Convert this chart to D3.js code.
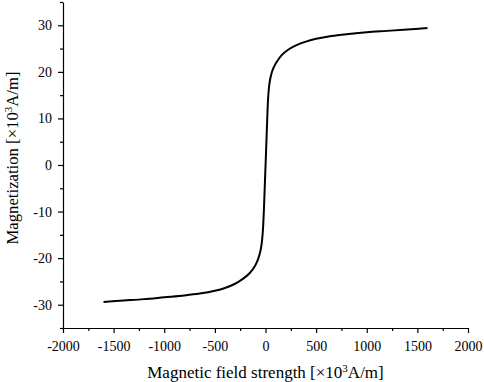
<!DOCTYPE html>
<html>
<head>
<meta charset="utf-8">
<script src="https://cdn.jsdelivr.net/npm/d3@7"></script>
<style>
  body { margin: 0; background: #fff; }
  text { font-family: "Liberation Serif", "Times New Roman", serif; fill: #000; }
  .axis path, .axis line { stroke: #000; stroke-width: 1.2; }
</style>
</head>
<body>
<div id="chart"></div>
<script>
// field strength H (x10^3 A/m) and magnetization M (x10^3 A/m)
const fieldH = [-1600, -1400, -1200, -1000, -800, -650, -500, -400, -300, -220, -160, -110, -80, -60, -45, -35, -25, -15, -5, 0,
                5, 15, 25, 35, 45, 60, 80, 110, 160, 220, 300, 400, 500, 650, 800, 1000, 1200, 1400, 1600];
const magM   = [-29.4, -29.1, -28.8, -28.4, -28.0, -27.6, -27.0, -26.4, -25.5, -24.4, -23.3, -21.9, -20.6, -19.3, -17.9, -16.4, -13.8, -9.2, -3.2, -0.4,
                2.6, 8.6, 14.0, 16.8, 18.3, 19.7, 20.9, 22.1, 23.6, 24.7, 25.7, 26.5, 27.1, 27.7, 28.1, 28.5, 28.8, 29.1, 29.4];

const xTicks = [-2000, -1500, -1000, -500, 0, 500, 1000, 1500, 2000];
const yTicks = [-30, -20, -10, 0, 10, 20, 30];

const width = 484, height = 382;
const margin = {top: 2, right: 16, bottom: 54, left: 63};

const svg = d3.select("#chart").append("svg")
    .attr("width", width)
    .attr("height", height);

const x = d3.scaleLinear().domain([-2000, 2000]).range([margin.left, width - margin.right]);
const y = d3.scaleLinear().domain([-35, 35]).range([height - margin.bottom, margin.top]);

const plain = d => String(d); // hyphen minus, no thousands comma

// minor ticks first
svg.append("g")
   .attr("class", "axis")
   .attr("transform", `translate(0,${height - margin.bottom})`)
   .call(d3.axisBottom(x).tickValues(d3.range(-1750, 2000, 500)).tickSize(3).tickFormat(""))
   .select(".domain").remove();

svg.append("g")
   .attr("class", "axis")
   .attr("transform", `translate(${margin.left},0)`)
   .call(d3.axisLeft(y).tickValues(d3.range(-35, 40, 10)).tickSize(3).tickFormat(""))
   .select(".domain").remove();

const xAxis = svg.append("g")
   .attr("class", "axis")
   .attr("transform", `translate(0,${height - margin.bottom})`)
   .call(d3.axisBottom(x).tickValues(xTicks).tickFormat(plain).tickSize(5).tickSizeOuter(0).tickPadding(8));
xAxis.selectAll("text").style("font-size", "14px");

const yAxis = svg.append("g")
   .attr("class", "axis")
   .attr("transform", `translate(${margin.left},0)`)
   .call(d3.axisLeft(y).tickValues(yTicks).tickFormat(plain).tickSize(5).tickSizeOuter(0).tickPadding(6));
yAxis.selectAll("text").style("font-size", "14px");

// axis titles
const xt = svg.append("text")
   .attr("x", x(0))
   .attr("y", 378)
   .attr("text-anchor", "middle")
   .style("font-size", "17px");
xt.append("tspan").text("Magnetic field strength [×10");
xt.append("tspan").attr("dy", -6).style("font-size", "11px").text("3");
xt.append("tspan").attr("dy", 6).text("A/m]");

const yt = svg.append("text")
   .attr("transform", `translate(18,158) rotate(-90)`)
   .attr("text-anchor", "middle")
   .style("font-size", "16.7px");
yt.append("tspan").text("Magnetization [×10");
yt.append("tspan").attr("dy", -6).style("font-size", "11px").text("3");
yt.append("tspan").attr("dy", 6).text("A/m]");

const line = d3.line()
   .x((d, i) => x(fieldH[i]))
   .y(d => y(d))
   .curve(d3.curveCatmullRom.alpha(0.5));

svg.append("path")
   .datum(magM)
   .attr("fill", "none")
   .attr("stroke", "#000")
   .attr("stroke-width", 2)
   .attr("d", line);
</script>
</body>
</html>
